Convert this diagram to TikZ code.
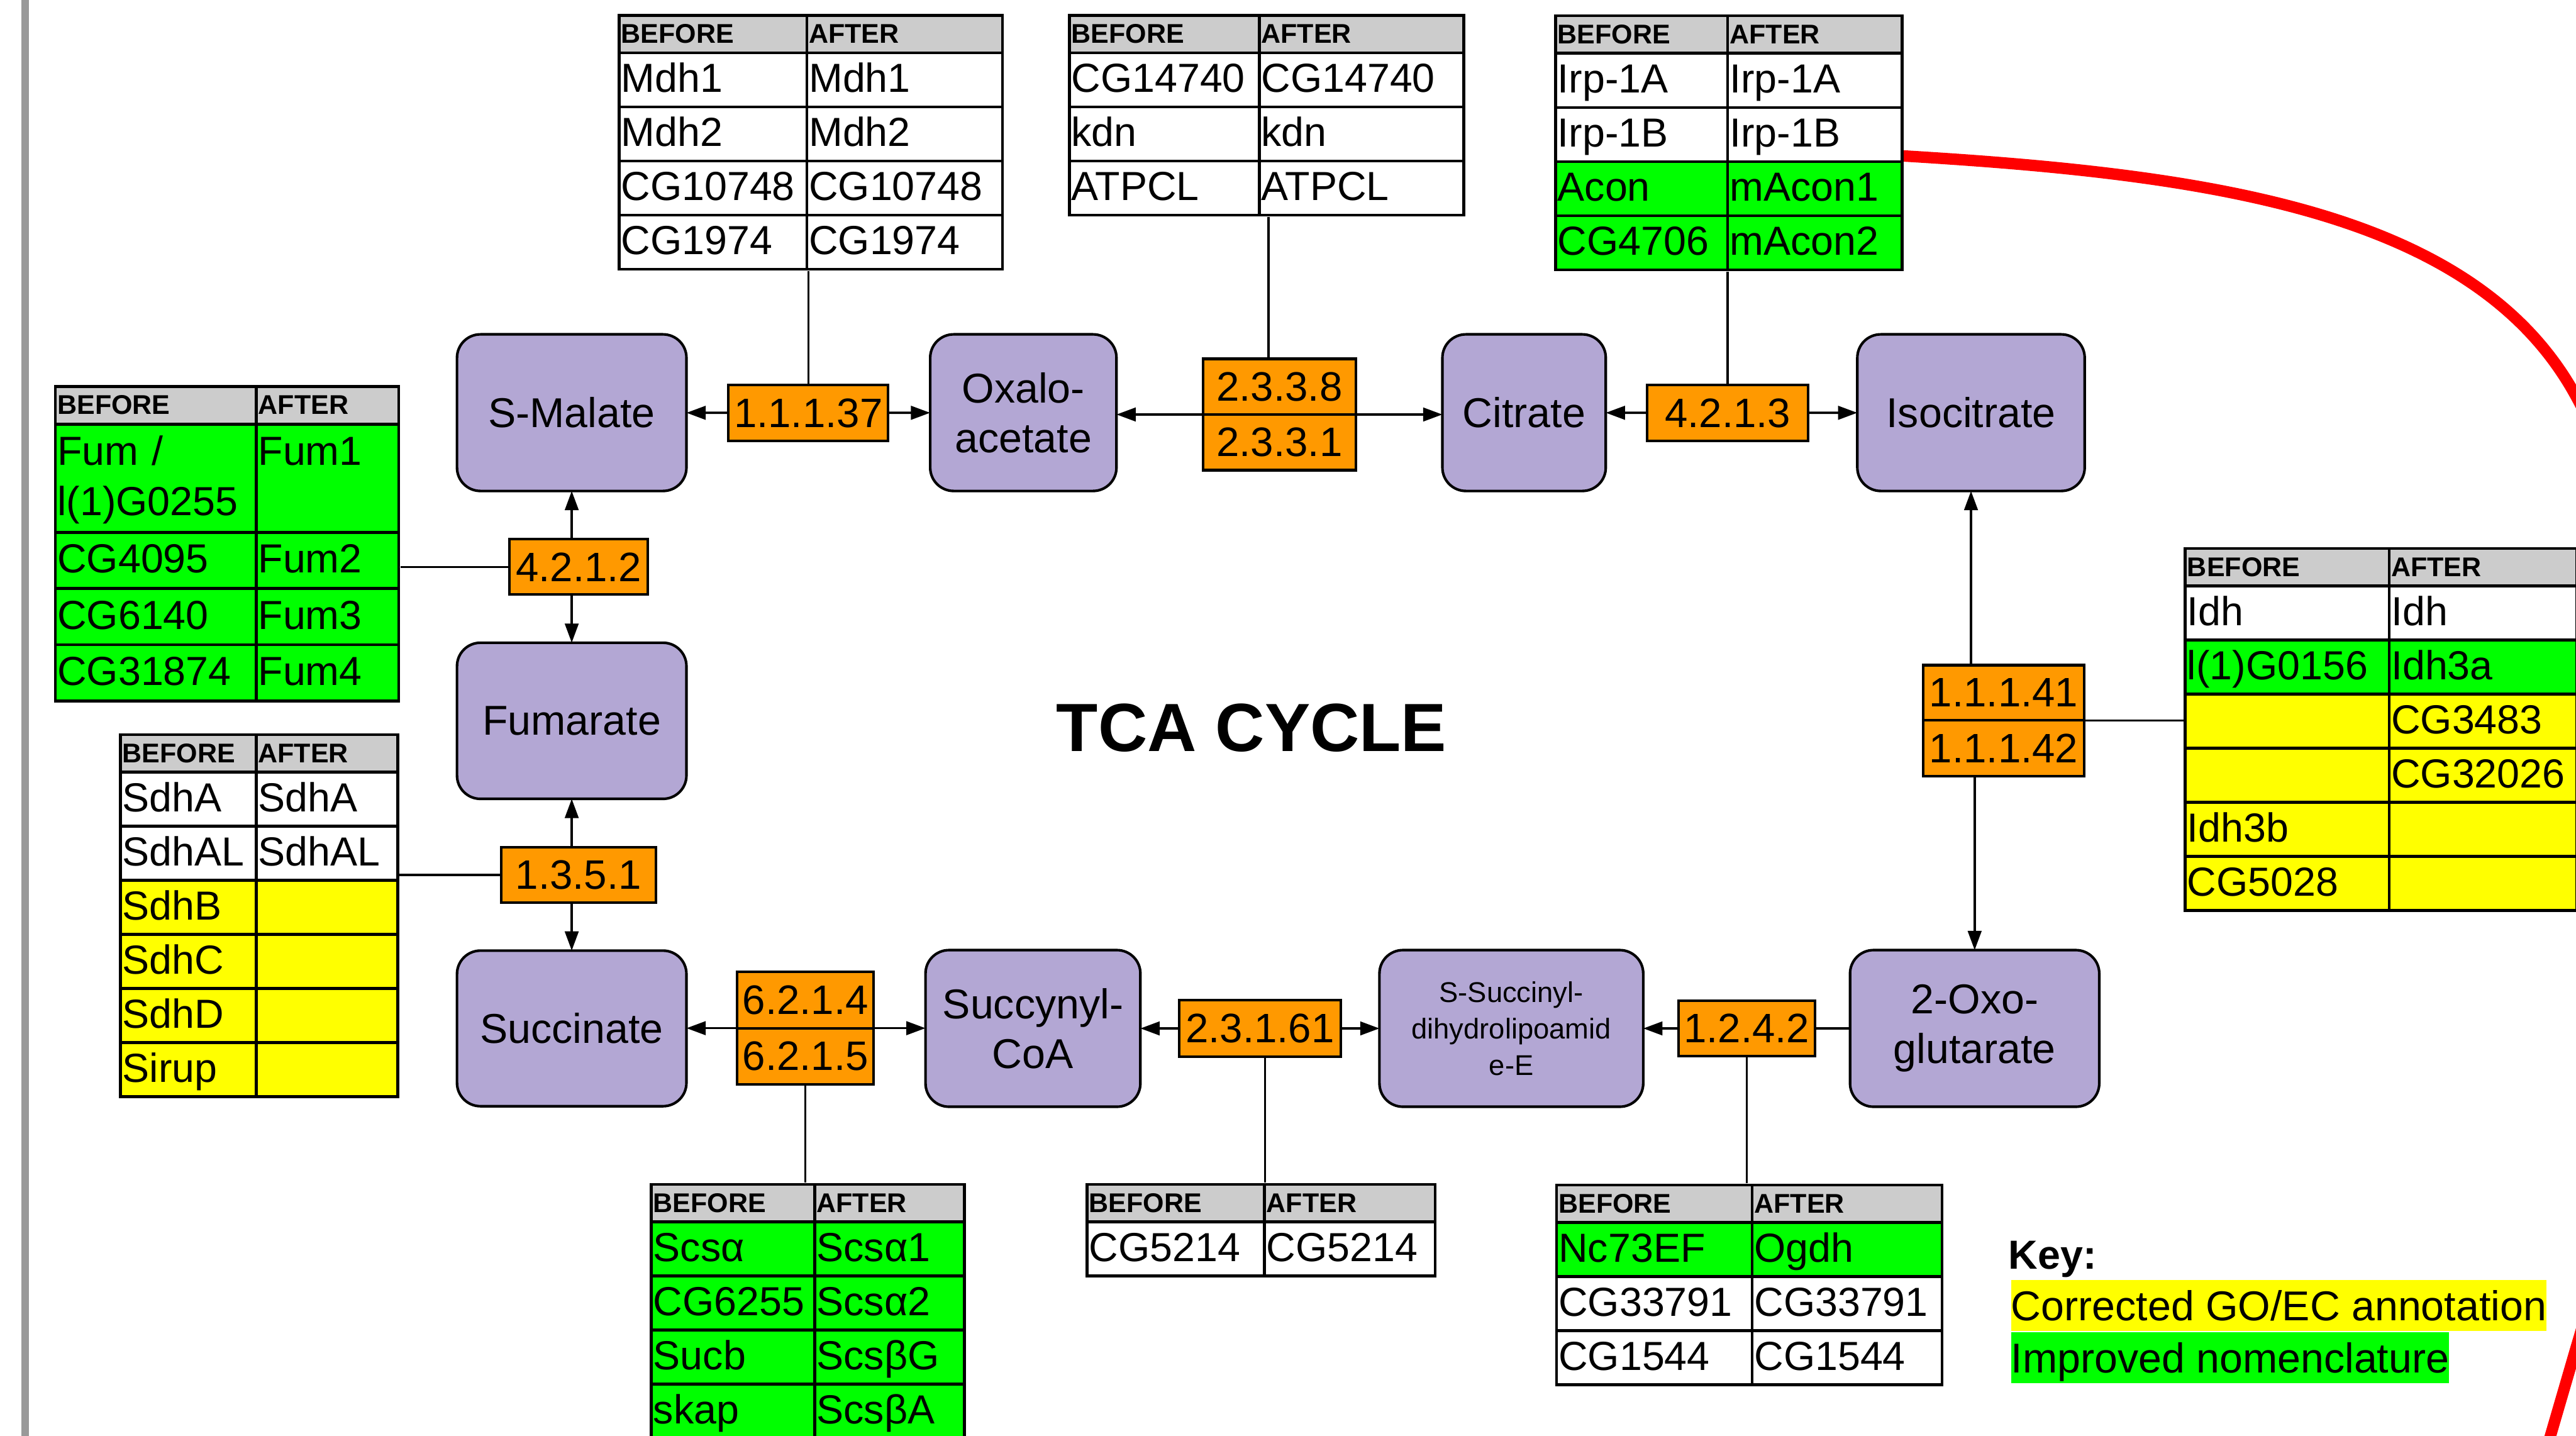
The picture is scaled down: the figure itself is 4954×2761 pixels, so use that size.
\documentclass[tikz,border=0pt]{standalone}
\usepackage{fontspec}
\setmainfont{Liberation Sans}
\usetikzlibrary{matrix,arrows.meta}

\definecolor{lavbox}{RGB}{179,167,212}
\definecolor{enzorange}{RGB}{255,153,0}
\definecolor{hdgray}{RGB}{204,204,204}
\definecolor{goodgreen}{RGB}{0,255,0}
\definecolor{fixyellow}{RGB}{255,255,0}
\definecolor{bargray}{RGB}{153,153,153}

\begin{document}
\begin{tikzpicture}[x=0.01cm, y=-0.01cm]
    % Define styles
    \tikzset{
        metbox/.style={draw, line width=0.05cm, fill=lavbox, rounded corners=0.45cm, minimum height=3.01cm, inner sep=0pt, outer sep=0pt, align=center, font=\fontsize{22.8pt}{27.3pt}\selectfont},
        enzbox/.style={draw, line width=0.05cm, fill=enzorange, minimum height=1.07cm, inner sep=0pt, outer sep=0pt, font=\fontsize{22.5pt}{27pt}\selectfont},
        arr/.style={line width=0.045cm, -{Triangle[length=0.37cm,width=0.26cm]}},
        shaft/.style={line width=0.045cm},
        link/.style={line width=0.04cm},
        genetab/.style={matrix of nodes, nodes in empty cells, anchor=north west, inner sep=0pt, column sep=-0.055cm, row sep=-0.055cm,
            nodes={draw, line width=0.055cm, fill=white, anchor=center, inner xsep=0.04cm, inner ysep=0pt, outer sep=0pt, align=left,
                minimum height=1.04cm, text height=0.62cm, text depth=0.14cm, font=\fontsize{22.2pt}{27.6pt}\selectfont},
            row 1/.style={nodes={fill=hdgray, minimum height=0.72cm, text height=0.40cm, text depth=0.05cm, font=\bfseries\fontsize{14.8pt}{17pt}\selectfont}}},
        gr/.style={fill=goodgreen},
        yl/.style={fill=fixyellow},
        tall/.style={minimum height=2.08cm, text height=0.60cm, text depth=1.10cm},
        keyband/.style={inner sep=0pt, text height=0.78cm, text depth=0.20cm, font=\fontsize{22.8pt}{27pt}\selectfont},
        redring/.style={draw=red, line width=0.22cm}
    }
    \useasboundingbox (0,0) rectangle (4954,2761);
    \clip (0,0) rectangle (4954,2761);

    % Red outline running off the page
    \draw[redring] (3640,299) -- (3663,300) .. controls (4263,336) and (4762,410) .. (4954,762)
        .. controls (5242,1290) and (5134,1992) .. (4954,2592) -- (4880,2846);
    % Grey bar at the left edge
    \fill[bargray] (41,0) rectangle (56,2761);

    % Gene tables
    \matrix (tmdh) [genetab, column 1/.style={nodes={text width=3.53cm}}, column 2/.style={nodes={text width=3.68cm}}] at (1187,26) {
        BEFORE & AFTER \\
        Mdh1 & Mdh1 \\
        Mdh2 & Mdh2 \\
        CG10748 & CG10748 \\
        CG1974 & CG1974 \\
    };
    \matrix (tatp) [genetab, column 1/.style={nodes={text width=3.57cm}}, column 2/.style={nodes={text width=3.85cm}}] at (2053,26) {
        BEFORE & AFTER \\
        CG14740 & CG14740 \\
        kdn & kdn \\
        ATPCL & ATPCL \\
    };
    \matrix (tacon) [genetab, column 1/.style={nodes={text width=3.23cm}}, column 2/.style={nodes={text width=3.27cm}},
        row 4/.style={nodes={gr}}, row 5/.style={nodes={gr}}] at (2988,27) {
        BEFORE & AFTER \\
        Irp-1A & Irp-1A \\
        Irp-1B & Irp-1B \\
        Acon & mAcon1 \\
        CG4706 & mAcon2 \\
    };
    \matrix (tfum) [genetab, nodes={minimum height=1.08cm}, column 1/.style={nodes={text width=3.78cm}}, column 2/.style={nodes={text width=2.66cm}},
        row 2/.style={nodes={gr, tall}}, row 3/.style={nodes={gr}}, row 4/.style={nodes={gr}}, row 5/.style={nodes={gr}}] at (103,740) {
        BEFORE & AFTER \\
        {Fum /\\l(1)G0255} & Fum1 \\
        CG4095 & Fum2 \\
        CG6140 & Fum3 \\
        CG31874 & Fum4 \\
    };
    \matrix (tsdh) [genetab, column 1/.style={nodes={text width=2.53cm}}, column 2/.style={nodes={text width=2.64cm}},
        row 4/.style={nodes={yl}}, row 5/.style={nodes={yl}}, row 6/.style={nodes={yl}}, row 7/.style={nodes={yl}}] at (228,1409) {
        BEFORE & AFTER \\
        SdhA & SdhA \\
        SdhAL & SdhAL \\
        SdhB & \\
        SdhC & \\
        SdhD & \\
        Sirup & \\
    };
    \matrix (tidh) [genetab, column 1/.style={nodes={text width=3.84cm}}, column 2/.style={nodes={text width=3.52cm}},
        row 3/.style={nodes={gr}}, row 4/.style={nodes={yl}}, row 5/.style={nodes={yl}}, row 6/.style={nodes={yl}}, row 7/.style={nodes={yl}}] at (4199,1051) {
        BEFORE & AFTER \\
        Idh & Idh \\
        l(1)G0156 & Idh3a \\
         & CG3483 \\
         & CG32026 \\
        Idh3b & \\
        CG5028 & \\
    };
    \matrix (tscs) [genetab, column 1/.style={nodes={text width=3.06cm}}, column 2/.style={nodes={text width=2.80cm}},
        row 2/.style={nodes={gr}}, row 3/.style={nodes={gr}}, row 4/.style={nodes={gr}}, row 5/.style={nodes={gr}}] at (1249,2274) {
        BEFORE & AFTER \\
        Scsα & Scsα1 \\
        CG6255 & Scsα2 \\
        Sucb & ScsβG \\
        skap & ScsβA \\
    };
    \matrix (tcg) [genetab, column 1/.style={nodes={text width=3.33cm}}, column 2/.style={nodes={text width=3.20cm}}] at (2087,2274) {
        BEFORE & AFTER \\
        CG5214 & CG5214 \\
    };
    \matrix (togdh) [genetab, column 1/.style={nodes={text width=3.68cm}}, column 2/.style={nodes={text width=3.57cm}},
        row 2/.style={nodes={gr}}] at (2990,2275) {
        BEFORE & AFTER \\
        Nc73EF & Ogdh \\
        CG33791 & CG33791 \\
        CG1544 & CG1544 \\
    };

    % Metabolites
    \node[metbox, minimum width=4.41cm] (smal) at (1099.5,793.5) {S-Malate};
    \node[metbox, minimum width=3.58cm] (oxa) at (1968,793.5) {Oxalo-\\acetate};
    \node[metbox, minimum width=3.14cm] (cit) at (2931,793.5) {Citrate};
    \node[metbox, minimum width=4.37cm] (iso) at (3790.5,793.5) {Isocitrate};
    \node[metbox, minimum width=4.41cm, minimum height=3.00cm] (fum) at (1099.5,1386) {Fumarate};
    \node[metbox, minimum width=4.41cm, minimum height=2.99cm] (suc) at (1099.5,1977.5) {Succinate};
    \node[metbox, minimum width=4.13cm] (scoa) at (1986.5,1977.5) {Succynyl-\\CoA};
    \node[metbox, minimum width=5.07cm, font=\fontsize{15.6pt}{19.9pt}\selectfont] (ssd) at (2906.5,1977.5) {S-Succinyl-\\dihydrolipoamid\\e-E};
    \node[metbox, minimum width=4.79cm] (oxo) at (3797.5,1977.5) {2-Oxo-\\glutarate};

    % Enzymes (EC numbers)
    \node[enzbox, minimum width=3.07cm, minimum height=1.08cm] (e11137) at (1554.5,794) {1.1.1.37};
    \node[enzbox, minimum width=2.93cm] (e2338) at (2460.5,743.5) {2.3.3.8};
    \node[enzbox, minimum width=2.93cm] (e2331) at (2460.5,850.5) {2.3.3.1};
    \node[enzbox, minimum width=3.09cm, minimum height=1.08cm] (e4213) at (3322.5,794) {4.2.1.3};
    \node[enzbox, minimum width=2.66cm, minimum height=1.06cm] (e4212) at (1113,1090) {4.2.1.2};
    \node[enzbox, minimum width=2.97cm] (e1351) at (1112.5,1682.5) {1.3.5.1};
    \node[enzbox, minimum width=2.62cm, minimum height=1.08cm] (e6214) at (1549,1923) {6.2.1.4};
    \node[enzbox, minimum width=2.62cm, minimum height=1.08cm] (e6215) at (1549,2031) {6.2.1.5};
    \node[enzbox, minimum width=3.10cm, minimum height=1.09cm] (e23161) at (2423,1977.5) {2.3.1.61};
    \node[enzbox, minimum width=2.62cm] (e1242) at (3359,1977.5) {1.2.4.2};
    \node[enzbox, minimum width=3.09cm, minimum height=1.06cm] (e11141) at (3853.5,1332) {1.1.1.41};
    \node[enzbox, minimum width=3.09cm] (e11142) at (3853.5,1438.5) {1.1.1.42};

    % Title and key
    \node[font=\bfseries\fontsize{37.3pt}{44pt}\selectfont] (title) at (2407,1400) {TCA CYCLE};
    \node[font=\bfseries\fontsize{22.2pt}{26pt}\selectfont, anchor=base west, inner sep=0pt] (keyhead) at (3862,2440) {Key:};
    \node[keyband, fill=fixyellow, anchor=north west] (keyfix) at (3867,2461) {Corrected GO/EC annotation};
    \node[keyband, fill=goodgreen, anchor=north west] (keynom) at (keyfix.south west) {Improved nomenclature};

    % Reactions, top row
    \draw[arr] (e11137) -- (smal);
    \draw[arr] (e11137) -- (oxa);
    \draw[arr] (e2338.south west) -- (e2338.south west -| oxa.east);
    \draw[arr] (e2338.south east) -- (e2338.south east -| cit.west);
    \draw[arr] (e4213) -- (cit);
    \draw[arr] (e4213) -- (iso);
    % Reactions, left column
    \draw[arr] (smal.south |- e4212.north) -- (smal.south);
    \draw[arr] (fum.north |- e4212.south) -- (fum.north);
    \draw[arr] (fum.south |- e1351.north) -- (fum.south);
    \draw[arr] (suc.north |- e1351.south) -- (suc.north);
    % Reactions, bottom row
    \draw[arr] (e6214.south west) -- (e6214.south west -| suc.east);
    \draw[arr] (e6214.south east) -- (e6214.south east -| scoa.west);
    \draw[arr] (e23161) -- (scoa);
    \draw[arr] (e23161) -- (ssd);
    \draw[arr] (e1242) -- (ssd);
    \draw[shaft] (e1242) -- (oxo);
    % Reactions, right column
    \draw[arr] (iso.south |- e11141.north) -- (iso.south);
    \draw[arr] (oxo.north |- e11142.south) -- (oxo.north);

    % Links from enzymes to their gene tables
    \draw[link] (e11137.north) -- (e11137.north |- tmdh.south);
    \draw[link] ([xshift=-0.21cm]e2338.north) -- ([xshift=-0.21cm]e2338.north |- tatp.south);
    \draw[link] (e4213.north) -- (e4213.north |- tacon.south);
    \draw[link] (e4212.west) -- (e4212.west -| tfum.east);
    \draw[link] (e1351.west) -- (e1351.west -| tsdh.east);
    \draw[link] (e6215.south) -- (e6215.south |- tscs.north);
    \draw[link] ([xshift=0.1cm]e23161.south) -- ([xshift=0.1cm]e23161.south |- tcg.north);
    \draw[link] (e1242.south) -- (e1242.south |- togdh.north);
    \draw[link] (e11141.south east) -- (e11141.south east -| tidh.west);
\end{tikzpicture}
\end{document}
